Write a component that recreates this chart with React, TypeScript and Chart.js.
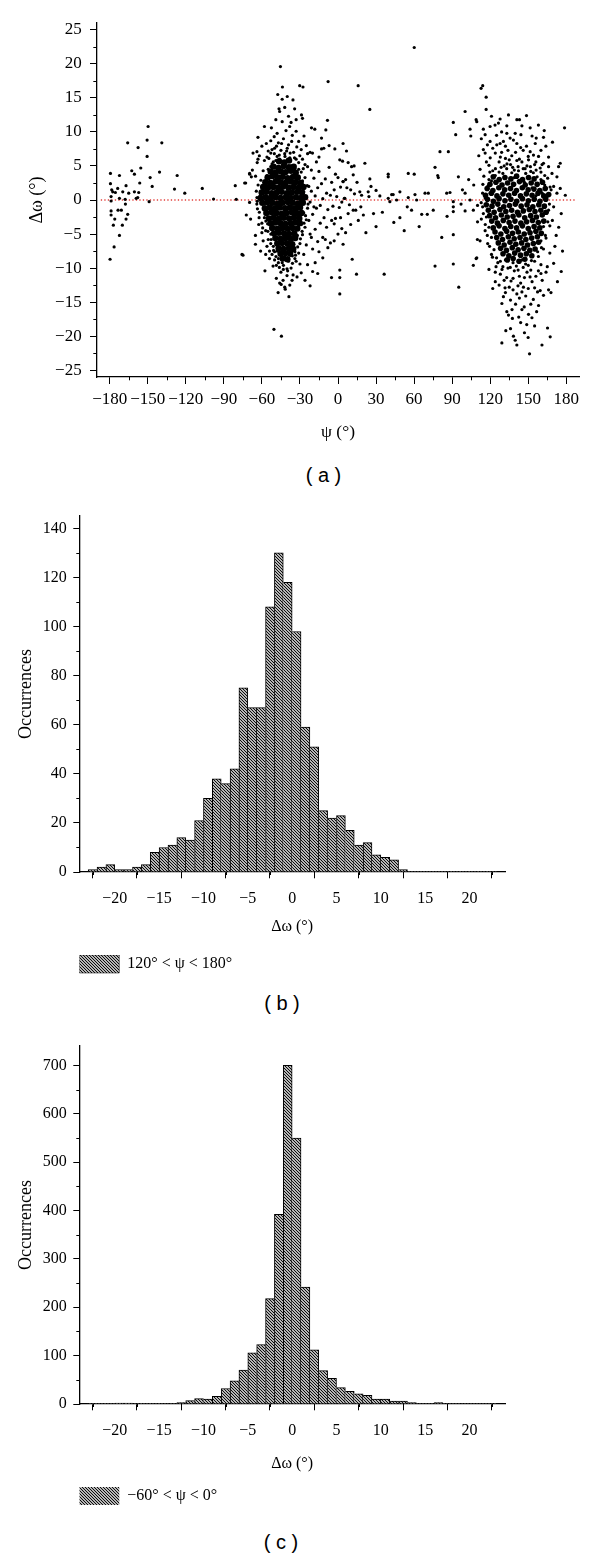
import React, { useEffect, useRef } from 'react';
import { Chart, registerables } from 'chart.js';

Chart.register(...registerables);

// ---------- Panel (a) data: psi (deg), delta omega (deg) ----------
const farLeft: [number, number][] = [
  [-179.4, 3.9], [-179.4, 2.4], [-178.4, 1.5], [-172.3, 3.6], [-165.8, 8.4], [-162.6, 4.3], [-160.5, 3.8],
  [-157.6, 7.7], [-155.5, 4.7], [-156.3, 2.5], [-150.5, 8.8], [-149.7, 10.8], [-150.5, 6.4], [-148.1, 3.3],
  [-146.5, 2.0], [-140.7, 4.1], [-138.9, 8.4], [-128.9, 1.6], [-126.8, 3.6], [-120.8, 1.0], [-107.0, 1.7],
  [-98.1, 0.15], [-177.6, 1.2], [-175.5, 1.1], [-173.7, 1.7], [-169.7, 1.2], [-167.1, 2.1], [-165, 1.0],
  [-160.5, 1.2], [-157.1, 1.1], [-172.3, 0.25], [-159.1, 0.25], [-178.9, 0.5], [-178.9, -0.15], [-178.9, -1.6],
  [-178.9, -2.2], [-176.0, -2.8], [-177.1, -3.7], [-172.3, -5.2], [-176.5, -6.9], [-179.7, -8.7], [-173.4, -1.5],
  [-170.8, -1.5], [-167.8, 0.1], [-167.6, -0.6], [-165.8, -2.1], [-167.1, -2.8], [-170, -3.7], [-157.9, 0.35],
  [-148.9, -0.25],
];

const leftHalo: [number, number][] = [
  [-81, 2.1], [-80.2, 0.1], [-73.6, 2.5], [-72.8, 2.5], [-69.6, 3.8], [-68.3, 3.4], [-67.5, 4.4], [-63.9, 7.1],
  [-63.1, 9.2], [-63.7, 5.5], [-67, 6.9], [-63.1, 6.0], [-69.7, 3.9], [-75.7, -8.0], [-74.9, -8.1], [-72.3, -2.2],
  [-68.9, -2.8], [-69.7, -0.35], [-62.5, -3.6], [-65.1, -5.2], [-65.1, -6.5], [-63.9, 0.35], [-63.7, -0.2],
  [-58, 10.8], [-52.5, 10.6], [-50.3, 9.3], [-56.5, 8.3], [-46.5, 13.4], [-46, 13.0], [-38.1, 10.8], [-35.5, 14.7],
  [-34.2, 13.4], [-45.4, 19.6], [-43.8, 16.6], [-30.2, 16.8], [-27.6, 16.6], [-28.8, 12.5], [-28, 12.0],
  [-20.9, 10.6], [-18.3, 10.4], [-26.8, 9.4], [-44, 11.5], [-41, 10.2], [-48, 9.8], [-53, 8.7], [-60, 7.9],
  [-62, 6.5], [-55, 7.2], [-50, 7.6], [-47, 8.4], [-43, 9.0], [-39, 8.1], [-36, 9.5], [-33, 10.1], [-31, 8.6],
  [-29, 7.4], [-25, 8.0], [-24, 6.8], [-22, 7.0], [-20.1, 6.9], [-58, 5.8], [-56, 6.3], [-53, 6.9], [-51, 5.6],
  [-48, 6.4], [-45, 7.3], [-42, 6.8], [-40, 7.6], [-38, 6.2], [-35, 7.0], [-33, 6.0], [-31, 5.5], [-28, 6.0],
  [-26, 5.2], [-39, 12.3], [-37, 11.4], [-42, 13.6], [-49, 11.8], [-33, 11.8], [-44, 14.8], [-40, 15.2],
  [-47.5, 15.5], [-65, 3.5], [-63, 2.2], [-61, 0.8], [-64, -0.6], [-62, -1.8], [-60, -3.4], [-59, 4.3],
  [-58, 1.9], [-57, -0.5], [-58, -2.6], [-57, -4.5], [-56, 3.6], [-55, -5.8], [-56, -6.8], [-54, -7.5],
  [-53, 4.9], [-29, 4.1], [-28, 2.8], [-27, 1.2], [-28, -0.4], [-27, -1.9], [-29, -3.6], [-28, -5.1], [-30, -6.4],
  [-26, 3.3], [-25, 0.4], [-24, -1.2], [-25, -2.9], [-23, 2.0], [-22, -0.3], [-21, 1.3], [-20, -2.1], [-19, 3.2],
  [-18, 0.6], [-17, -1.2], [-16, 1.8], [-15, 4.2], [-14, -0.8], [-13, 2.4], [-12, 0.2], [-11, -2.6], [-10, 3.1],
  [-9, 1.0], [-8, -1.4], [-7, 4.8], [-6, 0.7], [-5, 2.6], [-4, -0.9], [-3, 1.5], [-2, -2.7], [-1, 0.5], [0, 3.3],
  [1, -1.1], [2, 1.9], [3, -0.3], [4, 2.7], [5, 0.25], [-13, 7.5], [-11.2, 7.6], [-7, 8.0], [-2.5, 7.5],
  [-9.6, 10.3], [-8.3, 11.7], [-13, 9.1], [-7.8, 17.4], [4, 8.3], [6.7, 7.2], [1.4, 5.9], [3.6, 5.7], [-17, 5.6],
  [-15, 6.3], [-21, 4.4], [-24, 4.9], [-31, 3.2], [-30, -1.0], [-31, -2.3], [-57.6, -10.4], [-54, -8.6],
  [-51.2, -9.7], [-48.6, -9.6], [-48.6, -11.5], [-46, -12.2], [-43.3, -11.8], [-40.2, -10.1], [-40.2, -11.1],
  [-35.4, -11.0], [-32.3, -11.3], [-52, -8.0], [-50, -7.6], [-47, -8.6], [-44, -9.2], [-42, -8.4], [-39, -9.0],
  [-36, -8.2], [-34, -7.6], [-37, -10.0], [-45, -10.6], [-42, -12.8], [-38, -12.5], [-30, -9.4], [-27, -8.0],
  [-25, -6.6], [-22, -5.0], [-20, -7.2], [-18, -4.3], [-16, -6.1], [-14, -3.4], [-12, -5.5], [-9, -4.0],
  [-6, -6.3], [-5.1, -11.4], [-3, -3.5], [0, -5.0], [3, -4.2], [-33, -9.0], [-31, -7.8], [-29, -10.7],
  [-50.5, -19.0], [-44.6, -20.0], [-59, -6.0], [-60, -4.8], [-61, -7.5], [-55, 4.5], [-52, 5.3], [-49, 5.8],
  [-46, 6.0], [-43, 5.6], [-40, 5.9], [-37, 5.0], [-34, 4.6], [-31, 4.5], [-56, 2.5], [-55.5, 0.5], [-56.5, -1.5],
  [-55.5, -3.5], [-53, -5.0], [-51, -6.8], [-48, -7.5], [-45, -8.0], [-41, -8.0], [-38, -7.8], [-35, -6.5],
  [-32, -5.2], [-31, -3.8], [-30.5, -0.3], [-30.5, 1.5], [-32, 3.0], [-34, -8.6], [-43, -9.6], [-47, -9.2],
  [-50, -8.8], [-53, -6.4], [-57, -8.0], [-26, -4.0], [-23, -3.0], [-21, -5.5], [-19, -1.0], [-5, -3.0],
  [-2, 3.8], [2, -2.6], [6, 3.0], [8, 5.5], [10, 1.5], [12, -1.5], [15, 2.6], [18, -1.0], [-10, -5.8],
  [-15, -7.6], [-18, -9.2], [-12, -8.5], [-8, -7.0], [-3, -6.0], [4, -6.5], [6, -4.8], [-20, -10.5],
  [-24, -9.5], [-26, -11.8], [-22, -12.6], [-16, -10.8],
  [-52, 7.4], [-48.5, 7.9], [-44.5, 8.3], [-40.5, 7.2], [-36.5, 8.6], [-32.5, 7.8], [-54.5, 6.1], [-50.2, 6.8],
  [-46.3, 6.6], [-41.8, 6.4], [-37.7, 6.9], [-34.3, 6.2], [-30.1, 6.5], [-27.4, 4.6], [-64.4, 1.3], [-63.5, -1.3],
  [-62.2, -2.6], [-60.8, 2.9], [-59.4, -4.1], [-24.3, 2.1], [-23.6, -0.6], [-25.6, -2.3], [-26.8, -3.4],
  [-28.3, -4.6], [-29.6, -5.7], [-31.8, -6.9], [-33.5, -8.1], [-35.9, -9.3], [-39.7, -10.4], [-43.1, -10.2],
  [-46.2, -9.9], [-48.9, -8.3], [-50.8, -7.4], [-52.7, -5.8], [-55.3, -4.6], [-56.9, -3.1], [-36.2, -11.8],
  [-41.6, -13.1], [-44.8, -12.4], [-38.7, -14.2], [-47.2, -13.6],
];

const leftCore: [number, number][] = [
  [-46.5, 5.7], [-42.3, 5.5], [-38.6, 5.8],
  [-50.8, 4.9], [-46.9, 4.7], [-42.8, 5.0], [-38.7, 4.8], [-34.9, 4.9],
  [-53.1, 4.2], [-49.3, 4.0], [-45.1, 4.2], [-41.3, 4.1], [-37.1, 4.3], [-33.3, 4.0],
  [-55.5, 3.3], [-51.7, 3.5], [-47.5, 3.3], [-43.6, 3.4], [-39.7, 3.2], [-35.5, 3.4], [-31.7, 3.3],
  [-57.3, 2.6], [-53.5, 2.5], [-49.3, 2.7], [-45.4, 2.6], [-41.5, 2.5], [-37.3, 2.7], [-33.5, 2.6], [-29.4, 2.5],
  [-59.0, 1.9], [-55.2, 1.8], [-51.0, 1.9], [-47.1, 1.8], [-43.2, 2.0], [-39.0, 1.8], [-35.2, 1.9], [-31.0, 1.8], [-27.2, 1.9],
  [-60.2, 1.1], [-56.4, 1.2], [-52.2, 1.0], [-48.3, 1.1], [-44.4, 1.2], [-40.2, 1.0], [-36.4, 1.1], [-32.2, 1.2], [-28.4, 1.1],
  [-61.1, 0.3], [-57.3, 0.4], [-53.1, 0.3], [-49.2, 0.4], [-45.3, 0.3], [-41.1, 0.4], [-37.3, 0.3], [-33.1, 0.4], [-29.3, 0.3], [-25.9, 0.4],
  [-59.7, -0.4], [-55.5, -0.3], [-51.7, -0.4], [-47.5, -0.5], [-43.7, -0.4], [-39.5, -0.3], [-35.7, -0.4], [-31.5, -0.5], [-27.7, -0.4],
  [-57.7, -1.2], [-53.9, -1.1], [-49.7, -1.2], [-45.9, -1.1], [-41.7, -1.2], [-37.9, -1.1], [-33.7, -1.2], [-29.9, -1.1],
  [-56.5, -1.9], [-52.3, -1.8], [-48.5, -1.9], [-44.3, -2.0], [-40.5, -1.9], [-36.3, -1.8], [-32.5, -1.9], [-28.7, -1.9],
  [-54.5, -2.7], [-50.7, -2.6], [-46.5, -2.7], [-42.7, -2.6], [-38.5, -2.7], [-34.7, -2.6], [-30.5, -2.7],
  [-53.2, -3.4], [-49.4, -3.3], [-45.2, -3.4], [-41.4, -3.5], [-37.2, -3.4], [-33.4, -3.3], [-30.1, -3.4],
  [-51.9, -4.1], [-47.7, -4.2], [-43.9, -4.1], [-39.7, -4.2], [-35.9, -4.1], [-32.1, -4.2],
  [-50.5, -4.9], [-46.7, -4.8], [-42.5, -4.9], [-38.7, -5.0], [-34.5, -4.9],
  [-49.4, -5.6], [-45.2, -5.7], [-41.4, -5.6], [-37.2, -5.7], [-33.7, -5.6],
  [-47.9, -6.4], [-44.1, -6.3], [-39.9, -6.4], [-36.1, -6.5],
  [-46.8, -7.1], [-43.0, -7.2], [-38.8, -7.1], [-35.3, -7.2],
  [-45.3, -7.9], [-41.5, -7.8], [-37.7, -7.9],
  [-43.7, -8.6], [-39.9, -8.7],
];

const bridge: [number, number][] = [
  [15.9, 16.8], [60.1, 22.4], [25.1, 13.3], [12.7, 5.0], [10.7, 4.9], [21.2, 5.4], [25.1, 3.1], [39.6, 3.8],
  [39.6, 3.4], [55.4, 3.9], [60.1, 3.8], [76.5, 4.8], [78.6, 3.6], [79.1, 3.3], [80.4, 7.1], [87, 7.1],
  [90.9, 11.4], [92.8, 9.6], [100.2, 13.0], [104.1, 10.4], [104.7, 9.4], [109.4, 11.5], [94.9, 3.4], [17.2, 1.2],
  [18.6, 0.7], [23.8, 1.2], [24.4, 0.5], [33, 0.6], [39.6, 0.25], [42.3, 0.8], [43.5, 0.8], [48.8, 1.2],
  [55.4, 0.35], [60.7, 0.8], [62, 0], [68.6, 1.0], [71.2, 1.0], [85.7, 1.0], [88.3, 1.1], [90.9, -0.25],
  [98.1, 1.5], [100.2, 1.0], [40.9, -0.25], [46.2, 0], [5.4, 0.25], [12, 3.7], [4, 2.7], [11.2, -8.7],
  [14.6, -10.9], [36.4, -10.9], [76.5, -9.7], [90.9, -9.4], [95.2, -12.8], [106.7, -9.6], [108.9, -8.6],
  [52.2, -4.5], [66, -2.1], [70.4, -2.1], [75.1, -1.5], [48.8, -2.6], [54.6, -1.0], [90.9, -1.0], [90.9, -1.7],
  [97, -0.6], [100.2, -1.6], [104.1, 0], [106.7, -1.5], [81.8, -5.5], [90.9, -5.1], [109.9, -5.8], [109.4, -8.5],
  [8, -2.0], [10, -3.6], [14, -1.5], [16, -3.0], [20, -2.2], [22, -4.8], [28, -2.0], [30, -3.9], [35, -1.8],
  [7, 1.8], [9, -0.7], [13, 0.9], [26, 2.0], [30, 1.4], [44, -3.3], [58, -1.5], [64, -3.9], [86, -2.4],
  [103, 3.0], [107, 2.2], [110, -3.2], [112, 4.5], [114, 1.0], [110, -0.8], [1.4, -10.3], [1.4, -11.4],
  [1.4, -13.8],
];

const rightHalo: [number, number][] = [
  [112.8, 16.4], [114.1, 16.8], [116.8, 15.1], [116.8, 13.3], [178.6, 10.6], [148.6, 12.4], [134.4, 12.5],
  [127.8, 11.9], [126.5, 11.3], [141, 11.8], [143.1, 11.8], [145, 10.9], [108.9, 11.8], [114.6, 10.4],
  [119.9, 10.8], [123.8, 11.0], [133.1, 10.9], [162.6, 10.2], [169.1, 8.5], [151.5, 10.6], [156.3, 9.1],
  [155.5, 8.3], [162, 9.2], [163.9, 7.9], [175.2, 5.4], [173.9, 4.9], [172.6, 3.4], [175.2, 1.7], [179.2, 0.7],
  [116, 9.6], [117.8, 8.1], [119.9, 8.6], [114.6, 7.4], [125.2, 8.1], [127.8, 8.3], [130.4, 8.6], [133.1, 9.8],
  [135.7, 9.1], [139.7, 9.8], [138.3, 8.8], [141, 8.3], [144.2, 9.6], [148.6, 7.9], [151.5, 7.1], [150.2, 5.9],
  [154.1, 6.6], [158.1, 6.4], [162, 5.4], [166, 4.9], [168.7, 3.9], [159.4, 4.7], [170, 2.0], [172.6, 1.0],
  [129.2, -21.0], [138.3, -20.0], [141, -21.3], [139.7, -20.6], [149.9, -20.2], [151, -22.6], [160.8, -21.3],
  [165.2, -18.8], [167.3, -20.1], [176, -10.5], [167.9, -13.6], [166, -13.2], [129.2, -15.2], [130.4, -14.2],
  [133.1, -16.4], [134.4, -16.9], [137.5, -17.4], [145, -16.1], [146.8, -15.7], [150.2, -16.8], [152.9, -17.3],
  [158.1, -15.5], [157.3, -13.5], [159.4, -13.3], [127, -12.5], [131, -11.8], [135, -12.8], [138, -11.5],
  [141, -13.8], [144, -12.2], [147, -11.4], [150, -13.0], [153, -12.0], [156, -11.2], [161, -11.8], [164, -10.6],
  [132, -13.6], [136, -14.7], [140, -15.3], [143, -14.4], [148, -14.1], [154, -14.6], [162, -14.0], [170, -9.3],
  [173, -12.0], [124, -10.6], [126, -9.2], [121, -8.0], [118, -6.4], [116, -4.5], [113, -2.8], [112, -6.0],
  [119, -10.2], [122, -13.0], [171, -6.8], [174, -4.0], [176, -2.0], [177, -7.5], [169, -3.0], [167, -7.8],
  [165, -9.8], [160, -9.5], [158, -10.4], [152, -10.3], [146, -9.9], [142, -10.3], [134, -10.0], [130, -9.8],
  [155, -18.5], [144, -18.0], [136, -18.9], [147, -19.5], [115, 3.5], [117, 5.6], [120, 6.2], [122, 4.3],
  [124, 6.9], [127, 5.6], [129, 7.0], [132, 6.1], [134, 7.3], [137, 6.5], [140, 7.0], [143, 6.0], [146, 7.3],
  [149, 5.0], [152, 4.2], [155, 5.2], [157, 3.4], [160, 3.0], [163, 2.2], [165, 0.5], [166, -1.5], [167, -3.8],
  [164, -5.6], [162, -7.2], [118, 2.0], [116, 0.3], [114, -1.0], [117, -2.5], [119, -4.0], [121, -5.5],
  [123, -7.3], [125, -8.5], [128, -9.0], [120, 1.0], [119, 3.0], [161, 1.0], [163, -1.8], [162, -3.9],
  [160, -6.0], [158, -8.3], [155, -9.0], [150, -9.6], [145, -8.8], [138, -9.2], [132, -8.8], [168, 1.5],
  [170, -1.0], [172, -5.2], [125, 9.5], [131, 5.0], [137, 4.0], [146, 4.6], [153, 1.8], [156, 0.6], [111, 6.5],
  [113, 9.0], [121, 12.3], [129, 10.0], [153, 9.4], [158, 11.0], [166, 6.3], [160, 7.3], [121, 2.8], [124, 3.6],
  [127, 4.1], [130, 3.9], [133, 4.6], [136, 5.2], [139, 4.4], [142, 4.9], [145, 5.6], [148, 3.9], [151, 3.2],
  [154, 4.0], [157, 2.4], [160, 4.1], [163, 3.6], [128, 6.3], [135, 5.9], [141, 5.8], [150, 6.4], [156, 5.6],
  [119, 5.1], [116, 6.9], [122, 7.6], [132, 7.9], [144, 7.7], [139, 3.3], [147, 2.6], [160, -10.8],
  [149, -10.6], [139, -10.4], [128, -10.9], [124, -12.0], [133, -11.4], [143, -11.2], [155, -12.9],
  [152, -15.3], [138, -13.2], [145, -13.5],
  [114.2, 2.3], [112.9, -0.4], [114.6, -2.0], [116.1, -3.6], [117.7, -5.2], [119.5, -6.8], [121.8, -8.4],
  [124.6, -9.8], [129.3, -10.2], [135.8, -9.9], [140.6, -9.7], [147.9, -9.4], [152.5, -8.9], [157.4, -7.6],
  [160.4, -7.0], [163.5, -5.2], [165.4, -3.2], [166.7, -0.6], [167.2, 1.9], [165.3, 3.2], [160.9, 5.2],
  [156.2, 4.4], [151.7, 4.9], [147.5, 4.6], [142.3, 4.3], [137.7, 4.8], [133.2, 5.3], [128.6, 4.8], [124.1, 4.6],
  [119.7, 4.1], [136.4, -11.9], [141.9, -12.6], [146.2, -12.8], [131.7, -12.9], [151.4, -11.3], [137.2, -16.1],
  [142.5, -17.2], [148.8, -18.3], [156.6, -16.4], [132.3, -19.2],
];

const rightCore: [number, number][] = [
  [122.4, 3.4], [127.1, 3.0], [131.6, 3.3], [136.3, 3.1], [140.8, 3.5], [145.5, 3.0], [150.2, 3.3], [154.6, 3.1],
  [119.8, 2.3], [124.5, 2.6], [129.3, 2.2], [133.7, 2.5], [138.4, 2.3], [143.1, 2.7], [147.6, 2.2], [152.3, 2.5], [157.0, 2.3], [161.2, 2.6],
  [117.6, 1.7], [122.1, 1.4], [126.8, 1.8], [131.4, 1.5], [136.0, 1.7], [140.7, 1.4], [145.3, 1.8], [149.9, 1.5], [154.5, 1.6], [159.1, 1.4], [163.4, 1.7],
  [116.3, 0.7], [120.9, 1.0], [125.3, 0.6], [130.0, 0.9], [134.6, 0.7], [139.2, 1.0], [143.9, 0.6], [148.5, 0.9], [153.0, 0.7], [157.7, 1.0], [162.2, 0.6], [166.1, 0.8],
  [117.8, 0.1], [122.5, -0.2], [127.0, 0.2], [131.6, -0.1], [136.3, 0.1], [140.9, -0.2], [145.4, 0.2], [150.1, -0.1], [154.7, 0.1], [159.2, -0.2], [163.8, 0.1],
  [116.9, -0.7], [121.4, -0.9], [126.0, -0.6], [130.7, -1.0], [135.2, -0.8], [139.8, -0.6], [144.4, -0.9], [149.0, -0.7], [153.6, -1.0], [158.3, -0.7], [162.7, -0.9],
  [118.5, -1.5], [123.1, -1.8], [127.7, -1.4], [132.3, -1.7], [136.9, -1.5], [141.5, -1.8], [146.1, -1.6], [150.8, -1.4], [155.3, -1.7], [159.9, -1.5], [164.1, -1.8],
  [119.6, -2.3], [124.2, -2.6], [128.8, -2.2], [133.4, -2.5], [138.0, -2.4], [142.6, -2.2], [147.2, -2.6], [151.9, -2.3], [156.4, -2.5], [161.0, -2.2],
  [121.2, -3.1], [125.7, -3.4], [130.3, -3.0], [134.9, -3.3], [139.5, -3.1], [144.2, -3.4], [148.7, -3.2], [153.3, -3.0], [157.9, -3.3], [162.2, -3.1],
  [122.4, -4.1], [127.0, -3.8], [131.6, -4.2], [136.2, -3.9], [140.8, -4.1], [145.4, -3.8], [150.0, -4.2], [154.6, -3.9], [159.1, -4.1],
  [123.8, -4.7], [128.4, -5.0], [133.0, -4.6], [137.6, -4.9], [142.2, -4.7], [146.8, -5.0], [151.4, -4.8], [156.0, -4.6], [160.3, -4.9],
  [125.1, -5.5], [129.7, -5.8], [134.3, -5.4], [138.9, -5.7], [143.5, -5.5], [148.1, -5.8], [152.7, -5.6], [157.2, -5.4],
  [126.4, -6.3], [131.0, -6.6], [135.6, -6.2], [140.2, -6.5], [144.8, -6.3], [149.4, -6.6], [154.0, -6.4], [158.1, -6.2],
  [128.2, -7.1], [132.8, -7.4], [137.4, -7.0], [142.0, -7.3], [146.6, -7.1], [151.2, -7.4], [155.4, -7.2],
  [130.1, -7.9], [134.7, -8.2], [139.3, -7.8], [143.9, -8.1], [148.5, -7.9], [152.8, -8.2],
  [133.5, -8.8], [138.1, -8.6], [142.7, -9.0], [147.3, -8.7],
];

const refLineX = [-187, 188];
const psiTicks = [-180, -150, -120, -90, -60, -30, 0, 30, 60, 90, 120, 150, 180];
const dOmegaTicksA = [-25, -20, -15, -10, -5, 0, 5, 10, 15, 20, 25];

// ---------- Panels (b) and (c): histogram bins (1 degree wide) ----------
const binCenters = [
  -22.5, -21.5, -20.5, -19.5, -18.5, -17.5, -16.5, -15.5, -14.5, -13.5, -12.5, -11.5, -10.5, -9.5, -8.5, -7.5,
  -6.5, -5.5, -4.5, -3.5, -2.5, -1.5, -0.5, 0.5, 1.5, 2.5, 3.5, 4.5, 5.5, 6.5, 7.5, 8.5, 9.5, 10.5, 11.5, 12.5,
  13.5, 14.5, 15.5, 16.5, 17.5, 18.5, 19.5, 20.5, 21.5, 22.5,
];
const countsB = [
  1, 2, 3, 1, 1, 2, 3, 8, 10, 11, 14, 13, 21, 30, 38, 36, 42, 75, 67, 67, 108, 130, 118, 98, 59, 51, 25, 22, 23,
  17, 11, 12, 7, 6, 5, 1, 0, 0, 0, 0, 0, 0, 0, 0, 0, 0,
];
const countsC = [
  0, 0, 0, 2, 2, 0, 0, 0, 0, 1, 3, 7, 11, 10, 16, 32, 48, 70, 106, 123, 218, 392, 700, 550, 242, 112, 69, 53,
  34, 26, 21, 18, 10, 10, 6, 6, 3, 1, 0, 3, 1, 0, 1, 0, 0, 0,
];
const histXTicks = [-20, -15, -10, -5, 0, 5, 10, 15, 20];
const histYTicksB = [0, 20, 40, 60, 80, 100, 120, 140];
const histYTicksC = [0, 100, 200, 300, 400, 500, 600, 700];
const legendB = '120° < ψ < 180°';
const legendC = '−60° < ψ < 0°';

// ---------- helpers ----------
const SERIF = '"Liberation Serif", "Times New Roman", serif';
const fmt = (v: number | string) => String(v).replace('-', '\u2212');
const mids = (arr: number[]) => arr.slice(1).map((v, i) => (v + arr[i]) / 2);
const toPts = (arr: [number, number][]) => arr.map(([x, y]) => ({ x, y }));

const minorTicks = {
  id: 'minorTicks',
  afterDraw(chart: any, _a: any, opts: any) {
    const ctx = chart.ctx;
    const xs = chart.scales.x;
    const ys = chart.scales.y;
    ctx.save();
    ctx.strokeStyle = '#000';
    ctx.lineWidth = 1;
    (opts.x || []).forEach((v: number) => {
      const px = Math.round(xs.getPixelForValue(v)) + 0.5;
      ctx.beginPath();
      ctx.moveTo(px, xs.top);
      ctx.lineTo(px, xs.top + opts.xLen);
      ctx.stroke();
    });
    (opts.y || []).forEach((v: number) => {
      const py = Math.round(ys.getPixelForValue(v)) + 0.5;
      ctx.beginPath();
      ctx.moveTo(ys.right, py);
      ctx.lineTo(ys.right - opts.yLen, py);
      ctx.stroke();
    });
    ctx.restore();
  },
};

function makeHatch(): CanvasPattern | string {
  const c = document.createElement('canvas');
  c.width = 3;
  c.height = 3;
  const g = c.getContext('2d');
  if (!g) return '#888';
  g.fillStyle = '#fff';
  g.fillRect(0, 0, 3, 3);
  g.strokeStyle = '#000';
  g.lineWidth = 1.1;
  g.beginPath();
  g.moveTo(-1, -1); g.lineTo(4, 4);
  g.moveTo(2, -1); g.lineTo(4, 1);
  g.moveTo(-1, 2); g.lineTo(1, 4);
  g.stroke();
  return g.createPattern(c, 'repeat') || '#888';
}

function axisBase(ticks: number[], tickLen: number, pad: number, size: number, extent: number, horizontal: boolean) {
  return {
    type: 'linear' as const,
    afterBuildTicks: (s: any) => { s.ticks = ticks.map((value) => ({ value })); },
    afterFit: (s: any) => { if (horizontal) s.height = extent; else s.width = extent; },
    grid: { display: true, drawOnChartArea: false, drawTicks: true, tickLength: tickLen, tickColor: '#000', tickWidth: 1 },
    border: { display: true, color: '#000', width: 1.3 },
    ticks: { color: '#000', padding: pad, font: { family: SERIF, size }, callback: (v: any) => fmt(v), maxRotation: 0, autoSkip: false },
  };
}

function scatterConfig(): any {
  return {
    type: 'scatter',
    data: {
      datasets: [
        { label: 'zero', data: refLineX.map((x) => ({ x, y: 0 })), showLine: true, borderColor: '#e2403c', borderWidth: 1.3, borderDash: [1.3, 2.2], pointRadius: 0, order: 5 },
        { label: 'points', data: toPts([...farLeft, ...leftHalo, ...bridge, ...rightHalo]), backgroundColor: '#000', borderWidth: 0, pointRadius: 1.6, order: 1 },
        { label: 'leftCore', data: toPts(leftCore), backgroundColor: '#000', borderWidth: 0, pointRadius: 3.2, order: 1 },
        { label: 'rightCore', data: toPts(rightCore), backgroundColor: '#000', borderWidth: 0, pointRadius: 2.8, order: 1 },
      ],
    },
    options: {
      responsive: false,
      animation: false,
      events: [],
      layout: { padding: { left: 0, top: 23, right: 21, bottom: 0 } },
      scales: {
        x: {
          ...axisBase(psiTicks, 7, 5, 17, 78, true),
          min: -190, max: 190,
          title: { display: true, text: 'ψ (°)', color: '#000', font: { family: SERIF, size: 17.5 }, padding: { top: 0, bottom: 12.5 } },
        },
        y: {
          ...axisBase(dOmegaTicksA, 7, 8.3, 17, 97, false),
          min: -26, max: 26,
          title: { display: true, text: 'Δω (°)', color: '#000', font: { family: SERIF, size: 18 }, padding: { top: 26.7, bottom: 0 } },
        },
      },
      plugins: {
        legend: { display: false },
        tooltip: { enabled: false },
        minorTicks: { x: mids(psiTicks), y: mids(dOmegaTicksA), xLen: 3.3, yLen: 3.7 },
      },
    },
    plugins: [minorTicks],
  };
}

function histConfig(counts: number[], label: string, yMax: number, yTicks: number[], topPad: number, bottomPad: number, titlePad: number): any {
  const hatch = makeHatch();
  const borders = (i: number) => {
    const h = counts[i];
    if (!h) return 0;
    const prev = i > 0 ? counts[i - 1] : 0;
    const next = i < counts.length - 1 ? counts[i + 1] : 0;
    return { top: 1, bottom: 0, left: h > prev ? 1 : 0, right: h >= next ? 1 : 0 };
  };
  return {
    type: 'bar',
    data: {
      datasets: [
        {
          label,
          data: binCenters.map((x, i) => ({ x, y: counts[i] })),
          backgroundColor: hatch,
          borderColor: '#000',
          borderWidth: (ctx: any) => (ctx.dataIndex === undefined ? 1 : borders(ctx.dataIndex)),
          borderSkipped: false,
          categoryPercentage: 1,
          barPercentage: 1,
        },
      ],
    },
    options: {
      responsive: false,
      animation: false,
      events: [],
      layout: { padding: { left: 0, top: topPad, right: 95, bottom: bottomPad } },
      scales: {
        x: {
          ...axisBase(histXTicks, 6.3, 10.6, 16, 83, true),
          min: -24, max: 24,
          offset: false,
          title: { display: true, text: 'Δω (°)', color: '#000', font: { family: SERIF, size: 16 }, padding: { top: 0, bottom: titlePad } },
        },
        y: {
          ...axisBase(yTicks, 6, 6.5, 16, 79.3, false),
          min: 0, max: yMax,
          title: { display: true, text: 'Occurrences', color: '#000', font: { family: SERIF, size: 18 }, padding: { top: 15.9, bottom: 0 } },
        },
      },
      plugins: {
        legend: {
          display: true,
          position: 'bottom',
          align: 'start',
          fullSize: false,
          labels: { boxWidth: 40, boxHeight: 18, padding: 0, color: '#000', font: { family: SERIF, size: 16 } },
        },
        tooltip: { enabled: false },
        minorTicks: { x: [-22.5, ...mids(histXTicks), 22.5], y: mids(yTicks), xLen: 3, yLen: 3 },
      },
    },
    plugins: [minorTicks],
  };
}

const capStyle = (cx: number, cy: number): React.CSSProperties => ({
  position: 'absolute',
  left: cx,
  top: cy,
  transform: 'translate(-50%, -50%)',
  fontFamily: '"Liberation Sans", Arial, sans-serif',
  fontSize: 20,
  color: '#000',
  whiteSpace: 'pre',
  lineHeight: 1,
});

export default function App() {
  const aRef = useRef<HTMLCanvasElement>(null);
  const bRef = useRef<HTMLCanvasElement>(null);
  const cRef = useRef<HTMLCanvasElement>(null);

  useEffect(() => {
    document.body.style.margin = '0';
    const charts: Chart[] = [];
    if (aRef.current) charts.push(new Chart(aRef.current, scatterConfig()));
    if (bRef.current) charts.push(new Chart(bRef.current, histConfig(countsB, legendB, 145, histYTicksB, 12.7, 7, 18.7)));
    if (cRef.current) charts.push(new Chart(cRef.current, histConfig(countsC, legendC, 740, histYTicksC, 14.3, 5, 13.9)));
    return () => charts.forEach((c) => c.destroy());
  }, []);

  return (
    <div style={{ position: 'relative', width: 600, height: 1556, background: '#fff', overflow: 'hidden' }}>
      <canvas ref={aRef} width={600} height={455} style={{ position: 'absolute', left: 0, top: 0, width: 600, height: 455 }} />
      <div style={capStyle(323.5, 475)}>( a )</div>
      <canvas ref={bRef} width={600} height={490} style={{ position: 'absolute', left: 0, top: 500, width: 600, height: 490 }} />
      <div style={capStyle(282, 1003)}>( b )</div>
      <canvas ref={cRef} width={600} height={490} style={{ position: 'absolute', left: 0, top: 1030, width: 600, height: 490 }} />
      <div style={capStyle(281, 1542)}>( c )</div>
    </div>
  );
}
